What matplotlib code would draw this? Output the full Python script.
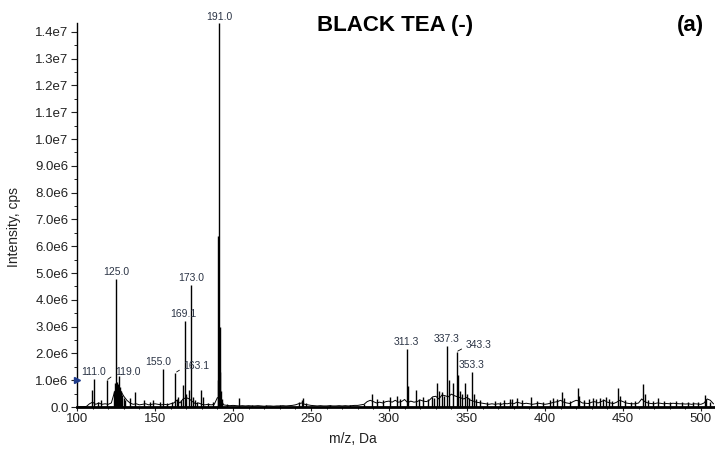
import numpy as np
import matplotlib
matplotlib.use("Agg")
import matplotlib.pyplot as plt
from matplotlib.ticker import MultipleLocator, FuncFormatter

# ---------------- data (intensities in units of 1e6 cps) ----------------
baseline_start = 100
baseline_step = 2
baseline_int = [
    0.01, 0.01, 0.01, 0.02,
    0.12, 0.18, 0.10, 0.15, 0.10, 0.12, 0.10, 0.15,
    0.55, 0.75, 0.60, 0.40, 0.25,
    0.15, 0.10, 0.12, 0.08, 0.10, 0.12, 0.08, 0.10, 0.12, 0.10, 0.08, 0.10, 0.08, 0.12,
    0.15, 0.25, 0.15, 0.30, 0.35, 0.30, 0.20, 0.12, 0.15, 0.10,
    0.08, 0.10, 0.08, 0.10, 0.35, 0.30, 0.08, 0.06, 0.05, 0.06,
    0.05, 0.04, 0.05, 0.04, 0.05, 0.04, 0.04, 0.05, 0.04, 0.03, 0.04, 0.04, 0.03, 0.04, 0.04, 0.05, 0.04, 0.05, 0.06,
    0.08, 0.12, 0.15, 0.10, 0.08, 0.06,
    0.05, 0.04, 0.05, 0.04, 0.04, 0.05, 0.04, 0.04, 0.05, 0.04, 0.05, 0.04, 0.05, 0.06, 0.06, 0.08, 0.10,
    0.20, 0.25, 0.20, 0.15, 0.18, 0.15, 0.20,
    0.22, 0.18, 0.25, 0.18, 0.20, 0.28, 0.16, 0.22, 0.18, 0.20, 0.26, 0.22, 0.20, 0.26, 0.38, 0.40, 0.30, 0.45,
    0.42, 0.38, 0.48, 0.42, 0.38, 0.34, 0.30, 0.36, 0.26, 0.22, 0.18, 0.16, 0.14,
    0.12, 0.10, 0.12, 0.10, 0.12, 0.10, 0.13, 0.12, 0.15, 0.12,
    0.18, 0.15, 0.12, 0.14, 0.12, 0.10, 0.12, 0.14, 0.12, 0.10,
    0.12, 0.15, 0.18, 0.20, 0.25, 0.18, 0.15, 0.13, 0.20, 0.25,
    0.22, 0.15, 0.14, 0.13, 0.18, 0.20, 0.15, 0.20, 0.25, 0.18,
    0.15, 0.13, 0.18, 0.25, 0.20, 0.15, 0.13, 0.12, 0.12, 0.15,
    0.30, 0.20, 0.15, 0.13, 0.12, 0.15, 0.14, 0.12, 0.13, 0.12,
    0.14, 0.13, 0.12, 0.12, 0.11, 0.12, 0.10, 0.12, 0.11, 0.10,
    0.15, 0.30, 0.25, 0.12,
]

peak_mz = [
    109.4, 111.0, 113.5, 115.4, 119.0,
    123.8, 124.5, 125.0, 125.5, 126.0, 126.5, 127.0, 127.5, 128.2, 129.0, 130.0, 131.0,
    134.2, 137.4, 142.7, 147.0, 149.0, 153.0, 155.0, 158.0, 161.0,
    163.1, 164.0, 165.0, 166.5, 168.0, 169.1, 170.0, 171.6, 173.0, 174.4, 175.5, 177.0,
    179.5, 181.0, 184.0, 187.0,
    190.4, 190.7, 191.0, 191.4, 191.8, 192.2, 193.0,
    196.0, 203.6, 212.0, 221.0, 230.0, 242.0, 244.0, 245.0, 247.0, 262.0, 275.0, 284.0,
    288.9, 292.0, 296.0, 300.6, 304.9, 307.0, 311.3, 312.2, 317.3, 319.0, 322.0, 325.0,
    327.3, 329.0, 331.0, 332.0, 333.7, 335.0, 337.3, 338.3, 341.2, 343.3, 344.3, 345.5,
    347.0, 348.9, 350.0, 351.5, 353.3, 354.5, 356.0, 358.3, 363.0, 368.0, 371.0, 374.0,
    377.5, 379.0, 381.8, 385.0, 390.8, 395.0, 399.0, 403.0, 405.3, 408.0, 410.7, 412.0,
    416.0, 420.9, 422.0, 425.0, 428.0, 431.0, 433.0, 435.2, 437.0, 439.0, 441.0, 443.0,
    446.6, 448.0, 451.0, 455.0, 458.0, 463.0, 464.0, 466.0, 469.0, 472.6, 476.0, 480.0,
    484.0, 488.0, 492.0, 495.0, 498.0, 502.5, 503.5, 506.0,
]
peak_int = [
    0.63, 1.03, 0.20, 0.25, 1.00,
    0.60, 0.90, 4.77, 0.95, 0.85, 0.80, 1.15, 0.75, 0.60, 0.45, 0.35, 0.25,
    0.33, 0.57, 0.25, 0.20, 0.25, 0.18, 1.42, 0.15, 0.20,
    1.28, 0.30, 0.38, 0.25, 0.82, 3.21, 0.50, 0.63, 4.54, 0.38, 0.25, 0.20,
    0.63, 0.38, 0.15, 0.18,
    1.00, 6.40, 14.35, 3.00, 1.30, 0.60, 0.30,
    0.10, 0.33, 0.08, 0.07, 0.08, 0.20, 0.25, 0.32, 0.15, 0.08, 0.07, 0.12,
    0.47, 0.30, 0.25, 0.38, 0.42, 0.30, 2.16, 0.80, 0.63, 0.30, 0.38, 0.30,
    0.38, 0.35, 0.88, 0.60, 0.57, 0.40, 2.27, 1.00, 0.88, 2.06, 1.20, 0.60,
    0.50, 0.90, 0.50, 0.35, 1.30, 0.50, 0.30, 0.25, 0.20, 0.22, 0.20, 0.25,
    0.30, 0.28, 0.35, 0.25, 0.38, 0.22, 0.20, 0.25, 0.35, 0.30, 0.57, 0.35,
    0.22, 0.70, 0.40, 0.25, 0.28, 0.32, 0.30, 0.32, 0.30, 0.38, 0.30, 0.22,
    0.70, 0.40, 0.25, 0.20, 0.22, 0.85, 0.50, 0.25, 0.22, 0.35, 0.22, 0.20,
    0.22, 0.20, 0.18, 0.20, 0.18, 0.45, 0.30, 0.20,
]

label_text = ["191.0", "125.0", "173.0", "169.1", "155.0", "111.0", "119.0",
              "163.1", "311.3", "337.3", "343.3", "353.3"]
label_mz = [191.0, 125.0, 173.0, 169.1, 155.0, 111.0, 119.0,
            163.1, 311.3, 337.3, 343.3, 353.3]
label_int = [14.35, 4.77, 4.54, 3.21, 1.42, 1.03, 1.00,
             1.28, 2.16, 2.27, 2.06, 1.30]
# label offsets in pixels (dx, dy) and whether a leader line is drawn
label_dx = [0, 0, 0, -1, -5, -1, 21, 21, 0, -1, 22, -1]
label_dy = [6, 7, 7, 7, 7, 7, 8, 7, 7, 7, 7, 7]
label_leader = [False, False, False, False, False, False, True, True,
                False, False, True, False]

SCALE = 1e6
ytick_vals = [0, 1e6, 2e6, 3e6, 4e6, 5e6, 6e6, 7e6, 8e6, 9e6,
              1e7, 1.1e7, 1.2e7, 1.3e7, 1.4e7]
xtick_vals = [100, 150, 200, 250, 300, 350, 400, 450, 500]

# ---------------- figure ----------------
plt.rcParams['font.family'] = ['Liberation Sans', 'DejaVu Sans']
fig = plt.figure(figsize=(7.15, 4.49), dpi=100)
ax = fig.add_axes([77 / 715, 42 / 449, 638 / 715, (407 - 22.5) / 449])

bmz = baseline_start + baseline_step * np.arange(len(baseline_int))
ax.plot(bmz, np.array(baseline_int) * SCALE, color='black', lw=0.7, zorder=2)
ax.vlines(peak_mz, 0, np.array(peak_int) * SCALE, color='black', lw=1.0, zorder=3)

ax.set_xlim(100, 509)
ax.set_ylim(0, 1.435e7)

lab_color = '#2b3445'
for t, mz, it, dx, dy, ld in zip(label_text, label_mz, label_int,
                                  label_dx, label_dy, label_leader):
    kw = {}
    if ld:
        kw['arrowprops'] = dict(arrowstyle='-', lw=0.6, color='black',
                                shrinkA=1, shrinkB=1,
                                relpos=(0.0, 0.3))
    ax.annotate(t, xy=(mz, it * SCALE), xytext=(dx, dy),
                textcoords='offset pixels', ha='center', va='center',
                fontsize=7.5, color=lab_color, annotation_clip=False, **kw)

# axes styling
for s in ['top', 'right']:
    ax.spines[s].set_visible(False)
ax.spines['left'].set_linewidth(1.0)
ax.spines['bottom'].set_linewidth(2.0)

ax.set_yticks(ytick_vals)
ax.yaxis.set_minor_locator(MultipleLocator(5e5))


def yfmt(v, pos):
    if v == 0:
        return "0.0"
    e = int(np.floor(np.log10(v) + 1e-9))
    m = v / 10 ** e
    return f"{m:.1f}e{e}"


ax.yaxis.set_major_formatter(FuncFormatter(yfmt))
ax.set_xticks(xtick_vals)
ax.xaxis.set_minor_locator(MultipleLocator(10))
ax.tick_params(axis='y', which='major', length=4, width=0.8, labelsize=9.5,
               pad=2, colors='#222222')
ax.tick_params(axis='y', which='minor', length=2, width=0.6)
ax.tick_params(axis='x', which='major', length=3, width=0.8, labelsize=9.5,
               pad=1, colors='#222222')
ax.tick_params(axis='x', which='minor', length=1.5, width=0.6)

fig.text(14 / 715, 1 - 227 / 449, "Intensity, cps", fontsize=10,
         color='#222222', rotation=90, ha='center', va='center')
fig.text(353 / 715, 1 - 439 / 449, "m/z, Da", fontsize=10,
         color='#222222', ha='center', va='center')

# small blue marker on the left axis
ax.plot([100], [1.0e6], marker='>', color='#1f3c8c', markersize=4,
        clip_on=False, zorder=5)

fig.text(395 / 715, 1 - 26 / 449, "BLACK TEA (-)", fontsize=16,
         fontweight='bold', ha='center', va='center', color='black')
fig.text(690 / 715, 1 - 26 / 449, "(a)", fontsize=16,
         fontweight='bold', ha='center', va='center', color='black')

fig.savefig("out.png", dpi=100)
